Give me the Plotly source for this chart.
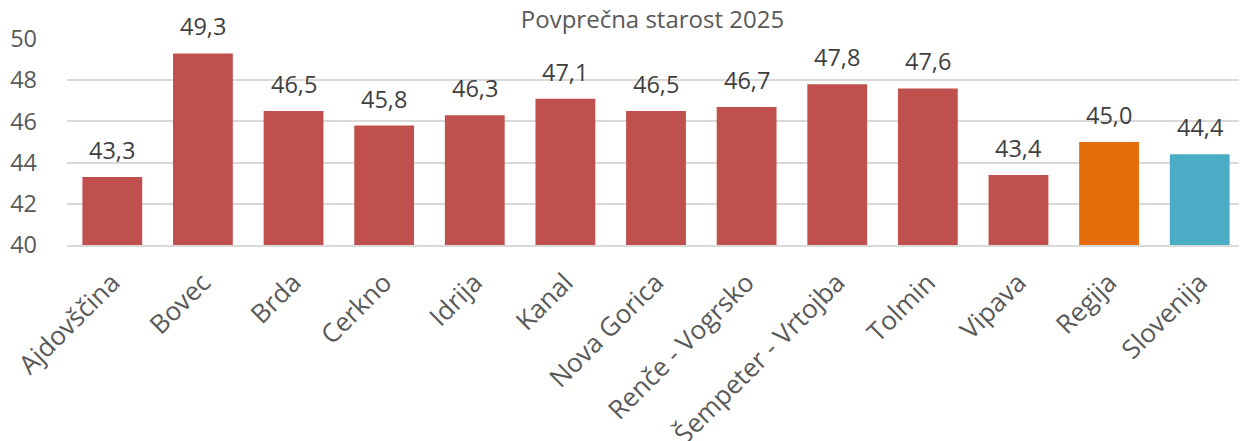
import plotly.graph_objects as go

categories = ["Ajdovščina", "Bovec", "Brda", "Cerkno", "Idrija", "Kanal", "Nova Gorica",
              "Renče - Vogrsko", "Šempeter - Vrtojba", "Tolmin", "Vipava", "Regija", "Slovenija"]
values = [43.3, 49.3, 46.5, 45.8, 46.3, 47.1, 46.5, 46.7, 47.8, 47.6, 43.4, 45.0, 44.4]
colors = ["#C0504D"] * 11 + ["#E46C0A", "#4BACC6"]
title_text = "Povprečna starost 2025"
y_ticks = [40, 42, 44, 46, 48, 50]

FONT = "Open Sans, sans-serif"

fig = go.Figure(go.Bar(
    x=categories, y=values, marker=dict(color=colors, line=dict(width=0)),
    hoverinfo="x+y",
))
for c, v in zip(categories, values):
    fig.add_annotation(x=c, y=v, text=f"{v:.1f}".replace(".", ","), showarrow=False,
                       yanchor="bottom", yshift=9,
                       font=dict(family=FONT, size=23.5, color="#404040"))

fig.update_layout(
    width=1239, height=433,
    margin=dict(l=59, r=2, t=31, b=196),
    paper_bgcolor="white", plot_bgcolor="white",
    font=dict(family=FONT, color="#595959"),
    title=dict(text=title_text, x=0.497, xref="paper", xanchor="center",
               y=1 - 12 / 433, yanchor="middle",
               font=dict(family=FONT, size=24, color="#595959")),
    bargap=0.34, showlegend=False,
)
fig.update_yaxes(range=[40, 50], tickvals=y_ticks, showgrid=True, gridcolor="#D9D9D9", gridwidth=2,
                 zeroline=False, showline=False, tickfont=dict(family=FONT, size=23.5, color="#595959"),
                 ticks="", ticklabelstandoff=29, automargin=False)
fig.update_xaxes(tickangle=-45, tickfont=dict(family=FONT, size=26, color="#595959"), showline=True,
                 linecolor="#D9D9D9", linewidth=2, ticks="", ticklabelstandoff=10, automargin=False)
fig.write_html("out.html")
